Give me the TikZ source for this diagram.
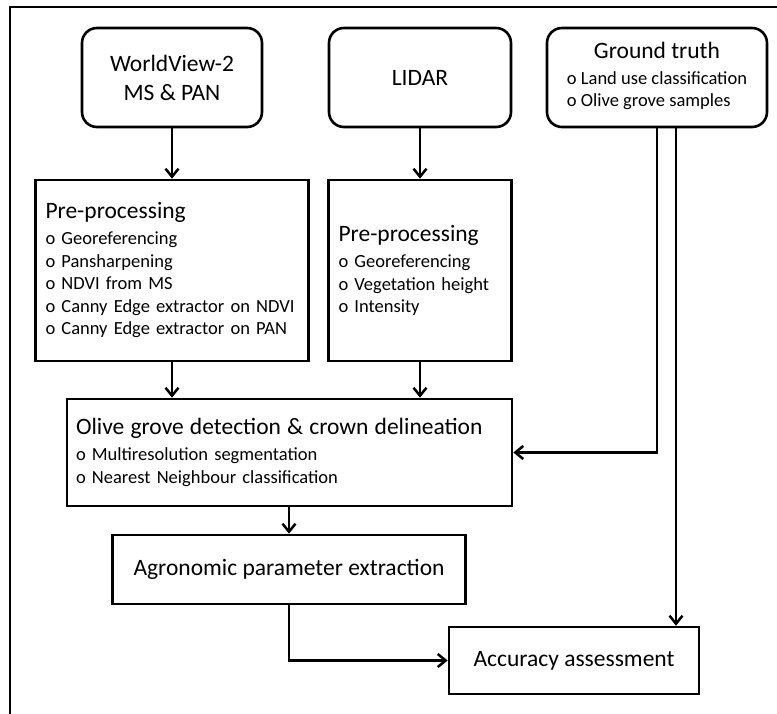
\documentclass[tikz,border=0pt]{standalone}
\usepackage{fontspec}
\setmainfont{Carlito}
\usetikzlibrary{arrows.meta,calc}
\newcommand{\ttlfont}{\fontsize{23.5}{29}\selectfont}
\newcommand{\itmfont}{\fontsize{18.5}{22.5}\selectfont}
\newcommand{\bul}{o\ }
\tikzset{
  srcbox/.style  = {draw, line width=2.6pt, rectangle, rounded corners=15pt,
                    align=center, font=\ttlfont, inner sep=0pt},
  stepbox/.style = {draw, line width=2.6pt, rectangle, align=left,
                    font=\itmfont, inner xsep=10pt, inner ysep=0pt},
  sig/.style     = {-{Straight Barb[length=8pt,width=13pt]}, line width=2.5pt},
}

\begin{document}
\begin{tikzpicture}[x=1pt,y=-1pt]
\useasboundingbox (0,0) rectangle (777,714);
% ---------- frame ----------
\draw[line width=2.2pt] (10,714) -- (10,7) -- (777,7);
% ---------- data sources ----------
\node[srcbox, minimum width=180pt, minimum height=99pt] (wv) at (172,77.5)
  {WorldView-2\\ MS \& PAN};
\node[srcbox, minimum width=182pt, minimum height=99pt] (lidar) at (420,77.5)
  {LIDAR};
\node[srcbox, minimum width=220pt, minimum height=99pt] (gt) at (657,77.5)
  {Ground truth\\[-3pt]
   {\itmfont\begin{tabular}[t]{@{}l@{}}\bul Land use classification\\
    \bul Olive grove samples\end{tabular}}};
% ---------- pre-processing ----------
\node[stepbox, text width=253pt, minimum height=181pt] (ppw) at (172,270.5)
  {{\ttlfont Pre-processing}\\[3.5pt]
   \bul Georeferencing\\ \bul Pansharpening\\ \bul NDVI from MS\\
   \bul Canny Edge extractor on NDVI\\ \bul Canny Edge extractor on PAN};
\node[stepbox, text width=163pt, minimum height=181pt] (ppl) at (420,270.5)
  {{\ttlfont Pre-processing}\\[3.5pt]
   \bul Georeferencing\\ \bul Vegetation height\\ \bul Intensity};
% ---------- processing chain ----------
\node[stepbox, inner xsep=9pt, text width=427pt, minimum height=107pt] (olive) at (289.5,452.5)
  {{\ttlfont Olive grove detection \& crown delineation}\\[3.5pt]
   \bul Multiresolution segmentation\\ \bul Nearest Neighbour classification};
\node[srcbox, rounded corners=0pt, minimum width=353pt, minimum height=69pt] (agro) at (289,569.5)
  {Agronomic parameter extraction};
\node[srcbox, rounded corners=0pt, minimum width=250pt, minimum height=67pt] (acc) at (574,660.5)
  {Accuracy assessment};
% ---------- connectors ----------
\draw[sig] (wv.south) -- (ppw.north);
\draw[sig] (lidar.south) -- (ppl.north);
\draw[sig] (ppw.south) -- (ppw.south |- olive.north);
\draw[sig] (ppl.south) -- (ppl.south |- olive.north);
\draw[sig] (gt.south) |- (olive.east);
\draw[sig] ([xshift=19pt]gt.south) -- ([xshift=19pt]gt.south |- acc.north);
\draw[sig] (olive.south -| agro.north) -- (agro.north);
\draw[sig] (agro.south) |- (acc.west);
\end{tikzpicture}
\end{document}
